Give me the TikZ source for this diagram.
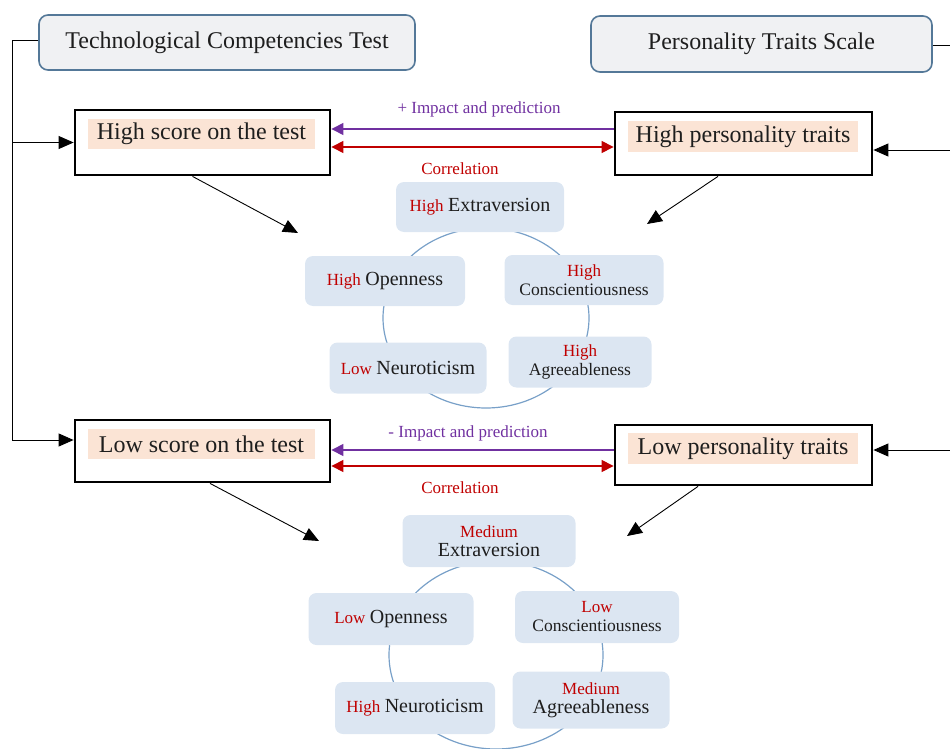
\documentclass[tikz,border=0pt]{standalone}
\usepackage{fontspec}
\setmainfont{Liberation Serif}
\usetikzlibrary{arrows.meta}
\definecolor{tred}{RGB}{192,0,0}
\definecolor{tpurple}{RGB}{112,48,160}
\definecolor{tblue}{RGB}{220,230,242}
\definecolor{tgray}{RGB}{240,241,243}
\definecolor{tborder}{RGB}{84,120,152}
\definecolor{tpeach}{RGB}{251,228,213}
\definecolor{tring}{RGB}{120,160,200}
\definecolor{tink}{RGB}{30,30,30}
\newcommand{\tlvl}[1]{{\color{tred}\fontsize{17}{19}\selectfont #1}}
\newcommand{\tword}[1]{{\fontsize{20}{21}\selectfont #1}}
\newcommand{\tsmall}[1]{{\fontsize{17.5}{19}\selectfont #1}}
\begin{document}
\begin{tikzpicture}[x=1pt,y=-1pt,
  titlebox/.style={draw=tborder, line width=1.6pt, fill=tgray, rounded corners=9pt, inner sep=0pt, font=\fontsize{24}{28}\selectfont, text=tink},
  mainbox/.style={draw=black, line width=2.8pt, inner sep=0pt},
  hl/.style={fill=tpeach, inner sep=0pt, font=\fontsize{24}{28}\selectfont, text=tink},
  trait/.style={fill=tblue, rounded corners=8pt, inner sep=0pt, align=center, text=tink, font=\fontsize{17.5}{19}\selectfont},
  blk/.style={-{Triangle[length=15pt,width=13pt]}, line width=0.9pt},
  purp/.style={tpurple, line width=1.1pt, -{Triangle[length=12pt,width=12pt]}},
  redar/.style={tred, line width=1.1pt, {Triangle[length=12pt,width=12pt]}-{Triangle[length=12pt,width=12pt]}},
  lbl/.style={inner sep=0pt, font=\fontsize{17}{20}\selectfont},
  ring/.style={draw=tring, line width=1.2pt}
]
\useasboundingbox (0,0) rectangle (950,749);

% rings behind trait boxes
\draw[ring] (486,318) ellipse [x radius=103, y radius=90];
\draw[ring] (496,655) ellipse [x radius=107, y radius=94];

% title boxes
\node[titlebox, minimum width=376pt, minimum height=55pt] (tech) at (227,42.5) {Technological Competencies Test};
\node[titlebox, minimum width=341pt, minimum height=56pt] (pers) at (761.5,44) {Personality Traits Scale};

% main boxes
\node[mainbox, minimum width=255pt, minimum height=65pt] (hscore) at (202.5,142.5) {};
\node[hl, minimum width=227pt, minimum height=30pt] (hscoret) at (201.5,134) {High score on the test};
\node[mainbox, minimum width=257pt, minimum height=63pt] (hpers) at (743.5,143.5) {};
\node[hl, minimum width=230pt, minimum height=31pt] (hperst) at (743,136.5) {High personality traits};
\node[mainbox, minimum width=255pt, minimum height=62pt] (lscore) at (202.5,451) {};
\node[hl, minimum width=227pt, minimum height=30pt] (lscoret) at (201.5,444) {Low score on the test};
\node[mainbox, minimum width=257pt, minimum height=60pt] (lpers) at (743.5,455) {};
\node[hl, minimum width=230pt, minimum height=31pt] (lperst) at (743,448.5) {Low personality traits};

% labels
\node[lbl, text=tpurple] (imp1) at (479,109) {+ Impact and prediction};
\node[lbl, text=tred] (cor1) at (460,169) {Correlation};
\node[lbl, text=tpurple] (imp2) at (468,433) {- Impact and prediction};
\node[lbl, text=tred] (cor2) at (460,488) {Correlation};

% horizontal arrows
\draw[purp] ([yshift=14.5pt]hpers.west) -- ([yshift=13.5pt]hscore.east);
\draw[redar] ([yshift=-4.5pt]hscore.east) -- ([yshift=-3.5pt]hpers.west);
\draw[purp] ([yshift=5pt]lpers.west) -- ([yshift=1pt]lscore.east);
\draw[redar] ([yshift=-15pt]lscore.east) -- ([yshift=-11pt]lpers.west);

% trait boxes, high group
\node[trait, minimum width=168pt, minimum height=50pt] (e1) at (480,207) {\tlvl{High} \tword{Extraversion}};
\node[trait, minimum width=160pt, minimum height=50pt] (o1) at (385,281) {\tlvl{High} \tword{Openness}};
\node[trait, minimum width=159pt, minimum height=50pt] (c1) at (584,280) {\tlvl{High}\\\tsmall{Conscientiousness}};
\node[trait, minimum width=157pt, minimum height=51pt] (n1) at (408,368) {\tlvl{Low} \tword{Neuroticism}};
\node[trait, minimum width=143pt, minimum height=51pt] (a1) at (580,362) {\tlvl{High}\\\tsmall{Agreeableness}};

% trait boxes, low group
\node[trait, minimum width=173pt, minimum height=52pt] (e2) at (489,541) {\tlvl{Medium}\\\tword{Extraversion}};
\node[trait, minimum width=165pt, minimum height=52pt] (o2) at (391,619) {\tlvl{Low} \tword{Openness}};
\node[trait, minimum width=164pt, minimum height=52pt] (c2) at (597,617) {\tlvl{Low}\\\tsmall{Conscientiousness}};
\node[trait, minimum width=160pt, minimum height=52pt] (n2) at (415,708) {\tlvl{High} \tword{Neuroticism}};
\node[trait, minimum width=157pt, minimum height=57pt] (a2) at (591,700) {\tlvl{Medium}\\\tword{Agreeableness}};

% diagonal arrows
\coordinate (d1) at (298,233);
\coordinate (d2) at (647,224);
\coordinate (d3) at (319,541);
\coordinate (d4) at (627,536);
\draw[blk] ([xshift=-10pt]hscore.south) -- (d1);
\draw[blk] ([xshift=-25.5pt]hpers.south) -- (d2);
\draw[blk] ([xshift=7.5pt]lscore.south) -- (d3);
\draw[blk] ([xshift=-45.5pt]lpers.south) -- (d4);

% left connector
\coordinate (lt) at (12,40);
\coordinate (lb) at (12,440);
\draw[blk] (tech.west |- lt) -- (lt) -- (lb) -- ([yshift=11pt]lscore.west);
\draw[blk] (lt |- hscore.west) -- (hscore.west);

% right connector
\coordinate (rt) at (950,45);
\coordinate (r1) at (950,150);
\coordinate (r2) at (950,450);
\draw[line width=0.9pt] (pers.east |- rt) -- (rt);
\draw[blk] (r1) -- ([yshift=-6.5pt]hpers.east);
\draw[blk] (r2) -- ([yshift=5pt]lpers.east);
\end{tikzpicture}
\end{document}
